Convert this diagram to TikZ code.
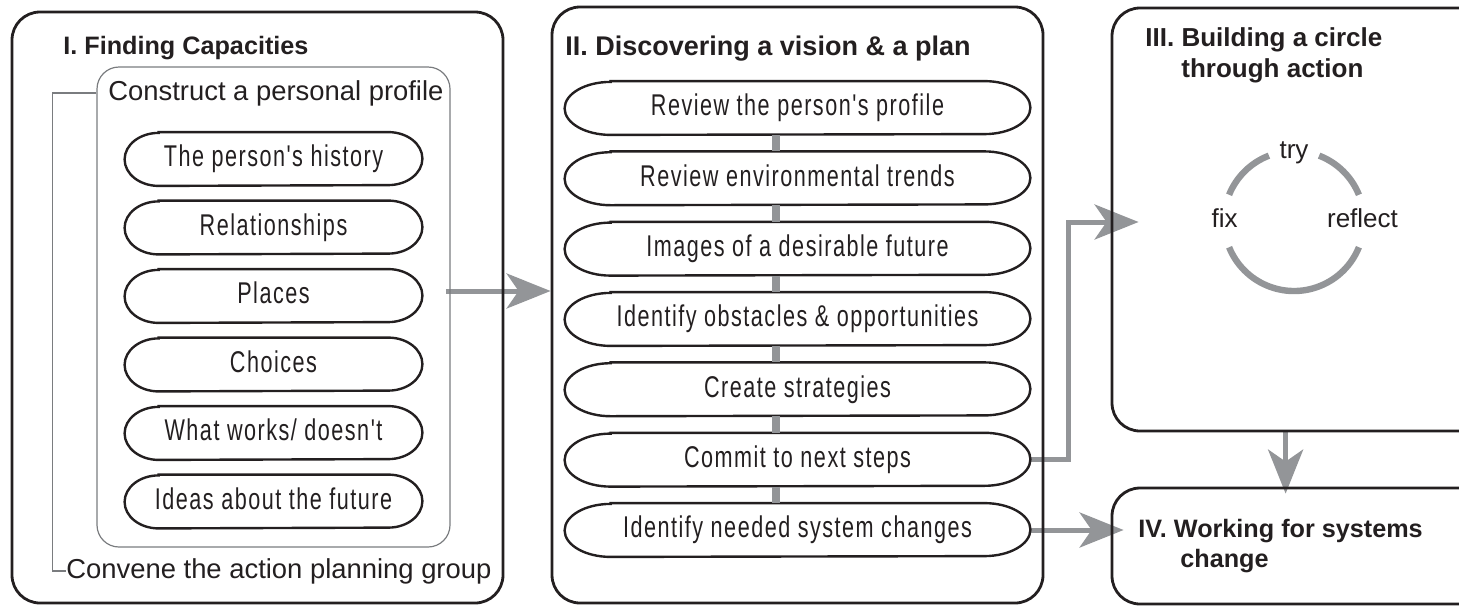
\documentclass[tikz,border=0pt]{standalone}
\usepackage{fontspec}
\setmainfont{Liberation Sans}
\newfontfamily\condfont[FakeStretch=0.72,LetterSpace=5,Ligatures=TeXOff]{Liberation Sans}
\usetikzlibrary{arrows.meta,calc}
\definecolor{ink}{HTML}{231F20}
\definecolor{agray}{HTML}{939598}
\definecolor{lgray}{HTML}{7A7C7F}
\pgfdeclarelayer{bg}
\pgfsetlayers{bg,main}
\tikzset{
  panel/.style={draw=ink, line width=1.4pt, rounded corners=14pt, inner sep=0pt},
  oval/.style={inner sep=0pt, minimum height=26.5pt, text=ink,
    font=\condfont\fontsize{15pt}{18pt}\selectfont, text height=10.7pt, text depth=3pt},
  lov/.style={oval, minimum width=148.5pt},
  mov/.style={oval, minimum width=232.5pt},
  ovalline/.style={draw=ink, line width=1.2pt},
  title/.style={text=ink, inner sep=0pt, anchor=base west},
  plain/.style={text=ink, inner sep=0pt},
  bigarrow/.style={draw=agray, line width=2.5pt, -{Stealth[length=22pt,width=17.5pt,inset=6pt]}},
  vconn/.style={draw=agray, line width=3.6pt},
  thinline/.style={draw=lgray, line width=0.6pt},
  cycarc/.style={draw=agray, line width=3.2pt},
}
\begin{document}
\begin{tikzpicture}[x=0.5pt,y=-0.5pt]
\useasboundingbox (0,0) rectangle (1459,606);
\clip (0,0) rectangle (1459,606);

% panels
\node[panel, minimum width=245.5pt, minimum height=295.5pt] (p1) at (257.5,307.5) {};
\node[panel, minimum width=245.5pt, minimum height=298pt] (p2) at (797.5,305) {};
\node[panel, minimum width=189pt, minimum height=211.5pt] (p3) at (1301,219.5) {};
\node[panel, minimum width=189pt, minimum height=58pt] (p4) at (1301,546) {};

% titles
\node[title, font=\bfseries\fontsize{12.6pt}{15pt}\selectfont] (t1) at (63,54) {I. Finding Capacities};
\node[title, font=\bfseries\fontsize{13.5pt}{16pt}\selectfont] (t2) at (565,55) {II. Discovering a vision \& a plan};
\node[title, anchor=north west, align=left, font=\bfseries\fontsize{13pt}{15.5pt}\selectfont] (t3) at (1145,27)
  {III. Building a circle\\\hspace*{18pt}through action};
\node[title, anchor=north west, align=left, font=\bfseries\fontsize{12.6pt}{15pt}\selectfont] (t4) at (1138,519)
  {IV. Working for systems\\\hspace*{21pt}change};

% panel I contents
\node[draw=lgray, line width=0.6pt, rounded corners=11pt, minimum width=176.5pt, minimum height=240pt, inner sep=0pt] (cbox) at (273.5,307) {};
\node[plain, anchor=base west, font=\fontsize{13.7pt}{16pt}\selectfont] (cons) at (108,100) {Construct a personal profile};
\node[plain, anchor=base west, font=\fontsize{13.7pt}{16pt}\selectfont] (conv) at (66,578) {Convene the action planning group};
\draw[thinline] (cbox.west |- cons.west) -- ++(-44,0) |- (conv.west);

\node[lov] (l1) at (273.5,159) {The person's history};
\node[lov] (l2) at (273.5,227.5) {Relationships};
\node[lov] (l3) at (273.5,296) {Places};
\node[lov] (l4) at (273.5,364.5) {Choices};
\node[lov] (l5) at (273.5,433) {What works/ doesn't};
\node[lov] (l6) at (273.5,501.5) {Ideas about the future};

% panel II contents
\node[mov] (m1) at (797.5,108) {Review the person's profile};
\node[mov] (m2) at (797.5,178.3) {Review environmental trends};
\node[mov] (m3) at (797.5,248.7) {Images of a desirable future};
\node[mov] (m4) at (797.5,319) {Identify obstacles \& opportunities};
\node[mov] (m5) at (797.5,389.3) {Create strategies};
\node[mov] (m6) at (797.5,459.7) {Commit to next steps};
\node[mov] (m7) at (797.5,530) {Identify needed system changes};

\foreach \n/\r in {l1/34,l2/34,l3/34,l4/34,l5/34,l6/34,m1/46,m2/46,m3/46,m4/46,m5/46,m6/46,m7/46}{
  \draw[ovalline] ($(\n.north west)+(\r,0)$) -- ($(\n.north east)+(-\r,0)$)
    arc[start angle=90, end angle=-90, x radius=\r*0.5pt, y radius=13.25pt]
    -- ($(\n.south west)+(\r,0)$)
    arc[start angle=270, end angle=90, x radius=\r*0.5pt, y radius=13.25pt] -- cycle;
}
\foreach \a/\b in {m1/m2,m2/m3,m3/m4,m4/m5,m5/m6,m6/m7}{
  \draw[vconn] ($(\a.south)+(-21.5,0)$) -- ($(\b.north)+(-21.5,0)$);
}

% panel III cycle
\coordinate (cyc) at (1294,221);
\draw[cycarc] ($(cyc)+(22:35pt)$) arc[start angle=22, end angle=69, radius=35pt];
\draw[cycarc] ($(cyc)+(111:35pt)$) arc[start angle=111, end angle=158, radius=35pt];
\draw[cycarc] ($(cyc)+(202:35pt)$) arc[start angle=202, end angle=338, radius=35pt];
\node[plain, anchor=base, font=\fontsize{13pt}{15pt}\selectfont] (try) at (1294,158) {try};
\node[plain, anchor=base, font=\fontsize{13pt}{15pt}\selectfont] (fix) at (1224.5,227) {fix};
\node[plain, anchor=base, font=\fontsize{13pt}{15pt}\selectfont] (refl) at (1362.5,227) {reflect};

% arrows (behind the panel borders)
\coordinate (a1s) at (446,291);
\coordinate (tip2) at ($(p3.west)+(28,2.5)$);
\coordinate (tip3) at ($(p4.west)+(13,0)$);
\begin{pgfonlayer}{bg}
\draw[bigarrow] (a1s) -- (a1s -| p2.west);
\draw[bigarrow] (m6.east) -- ++(38,0) |- (tip2);
\draw[bigarrow] (m7.east) -- (m7.east -| tip3);
\draw[bigarrow] ($(p3.south west)+(175,0)$) -- ($(p4.north west)+(175,7)$);
\end{pgfonlayer}
\end{tikzpicture}
\end{document}
